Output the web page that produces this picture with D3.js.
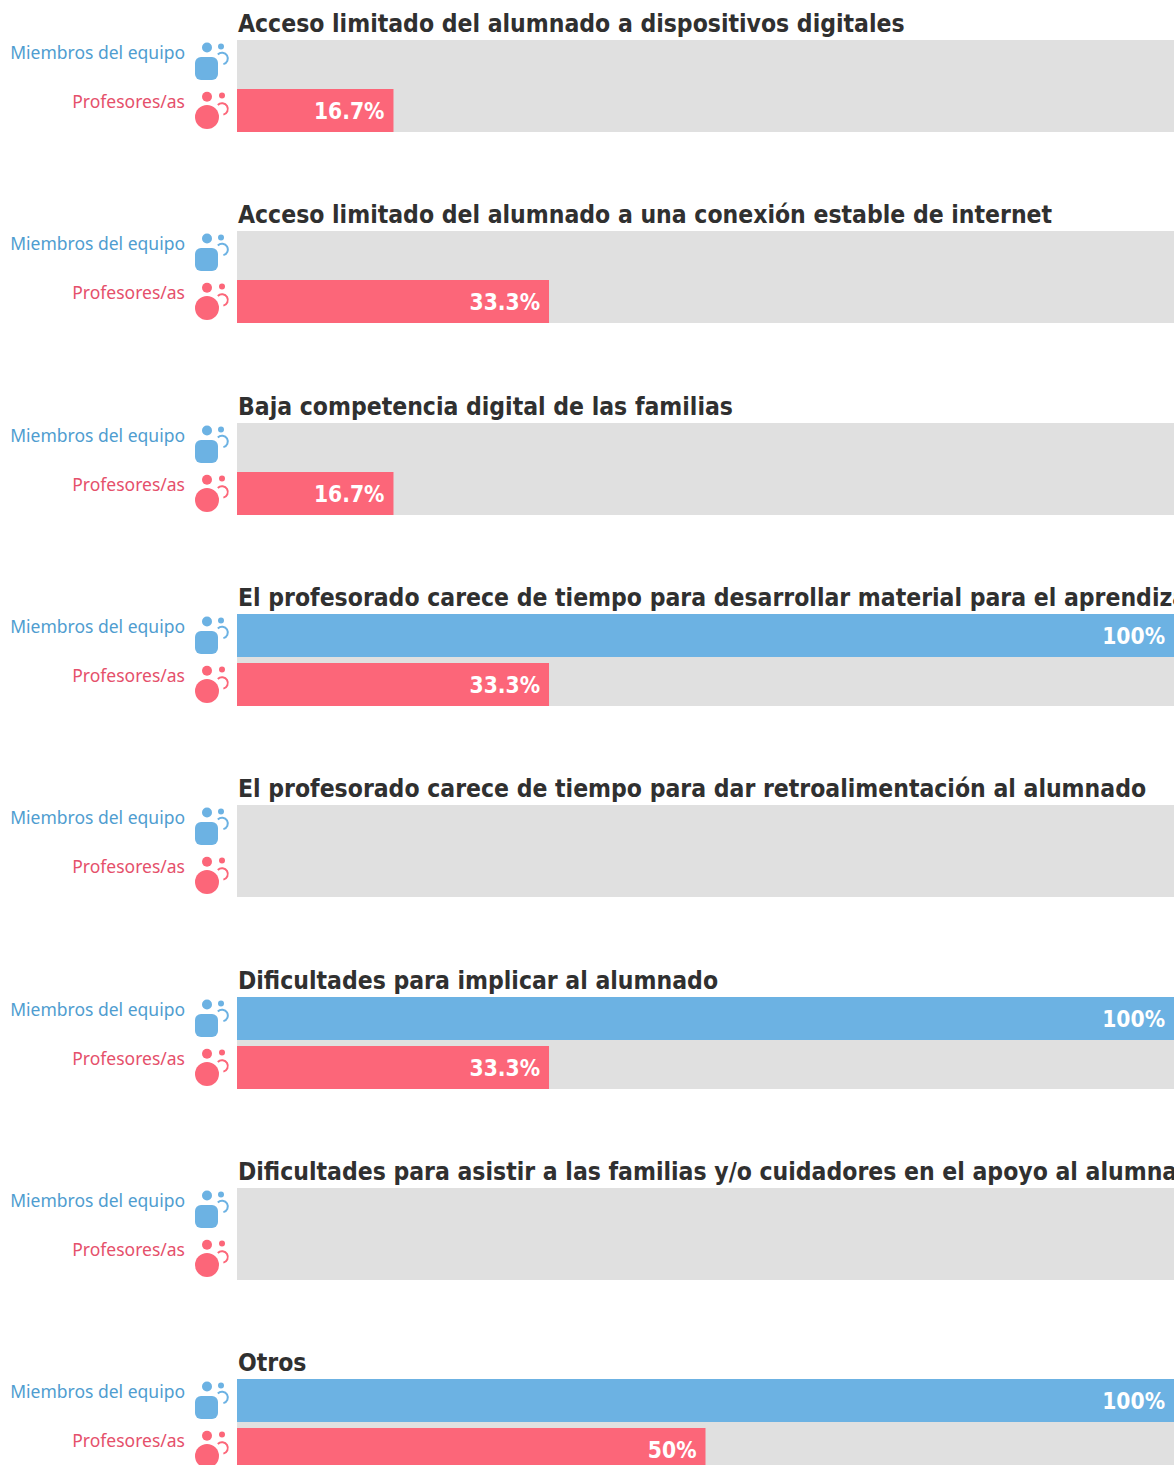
<!DOCTYPE html>
<html>
<head>
<meta charset="utf-8">
<script src="https://cdn.jsdelivr.net/npm/d3@7"></script>
<style>
html, body { margin: 0; padding: 0; background: #fff; overflow: hidden; }
svg { display: block; }
</style>
</head>
<body>
<script>
const width = 1174;
const height = 1465;

const categories = [
  'Acceso limitado del alumnado a dispositivos digitales',
  'Acceso limitado del alumnado a una conexión estable de internet',
  'Baja competencia digital de las familias',
  'El profesorado carece de tiempo para desarrollar material para el aprendizaje',
  'El profesorado carece de tiempo para dar retroalimentación al alumnado',
  'Dificultades para implicar al alumnado',
  'Dificultades para asistir a las familias y/o cuidadores en el apoyo al alumnado',
  'Otros'
];
const groups = ['Miembros del equipo', 'Profesores/as'];
const miembros = [0, 0, 0, 100, 0, 100, 0, 100];
const profesores = [16.7, 33.3, 16.7, 33.3, 0, 33.3, 0, 50];
const valueLabels = [
  ['', '', '', '100%', '', '100%', '', '100%'],
  ['16.7%', '33.3%', '16.7%', '33.3%', '', '33.3%', '', '50%']
];

const colors = ['#6cb2e3', '#fc6679'];
const labelColors = ['#4f9dd0', '#e5506b'];
const series = [miembros, profesores];

const x = d3.scaleLinear().domain([0, 100]).range([237, 1174]);
const y = d3.scaleBand().domain(categories)
  .range([40, 40 + 191.33 * categories.length]);
const row = d3.scaleBand().domain(groups).range([0, 92]).paddingInner(6 / 49);

const svg = d3.select('body').append('svg')
  .attr('width', width)
  .attr('height', height);

const panel = svg.selectAll('g.panel')
  .data(categories)
  .enter()
  .append('g')
  .attr('class', 'panel')
  .attr('transform', d => `translate(0,${Math.round(y(d))})`);

panel.append('text')
  .text(d => d)
  .attr('x', 238)
  .attr('y', -8.5)
  .attr('font-family', 'DejaVu Sans')
  .style('font-stretch', 'condensed')
  .attr('font-weight', 700)
  .attr('font-size', 24.5)
  .attr('fill', '#303030');

panel.append('rect')
  .attr('x', x(0))
  .attr('y', 0)
  .attr('width', x(100) - x(0))
  .attr('height', row.range()[1])
  .attr('fill', '#e0e0e0');

groups.forEach((g, gi) => {
  const top = row(g);
  const rows = panel.append('g').attr('transform', `translate(0,${top})`);

  rows.append('text')
    .text(g)
    .attr('x', 185)
    .attr('y', 18.5)
    .attr('text-anchor', 'end')
    .attr('font-family', 'Noto Sans')
    .attr('font-size', 17.5)
    .attr('fill', labelColors[gi]);

  // icon: head, body, small figure with its arm
  rows.append('circle').attr('cx', 207).attr('cy', gi ? 7.7 : 7.5).attr('r', 5).attr('fill', colors[gi]);
  rows.append('circle').attr('cx', gi ? 222 : 221).attr('cy', 6.5).attr('r', 3).attr('fill', colors[gi]);
  if (gi === 0) {
    rows.append('rect').attr('x', 195).attr('y', 17).attr('width', 23).attr('height', 23).attr('rx', 6).attr('fill', colors[gi]);
  } else {
    rows.append('circle').attr('cx', 207).attr('cy', 28).attr('r', 12).attr('fill', colors[gi]);
  }
  rows.append('path')
    .attr('d', d3.arc()({ innerRadius: 4.8, outerRadius: 6.8, startAngle: -0.8, endAngle: 2.9 }))
    .attr('transform', `translate(222,${gi ? 20 : 18.5})`)
    .attr('fill', colors[gi]);

  rows.append('rect')
    .attr('x', x(0))
    .attr('y', 0)
    .attr('width', (d, i) => x(series[gi][i]) - x(0))
    .attr('height', row.bandwidth())
    .attr('fill', colors[gi]);

  rows.append('text')
    .text((d, i) => valueLabels[gi][i])
    .attr('x', (d, i) => x(series[gi][i]) - 9)
    .attr('y', 30)
    .attr('text-anchor', 'end')
    .attr('font-family', 'DejaVu Sans')
    .style('font-stretch', 'condensed')
    .attr('font-weight', 700)
    .attr('font-size', 22.6)
    .attr('fill', '#fff');
});
</script>
</body>
</html>
